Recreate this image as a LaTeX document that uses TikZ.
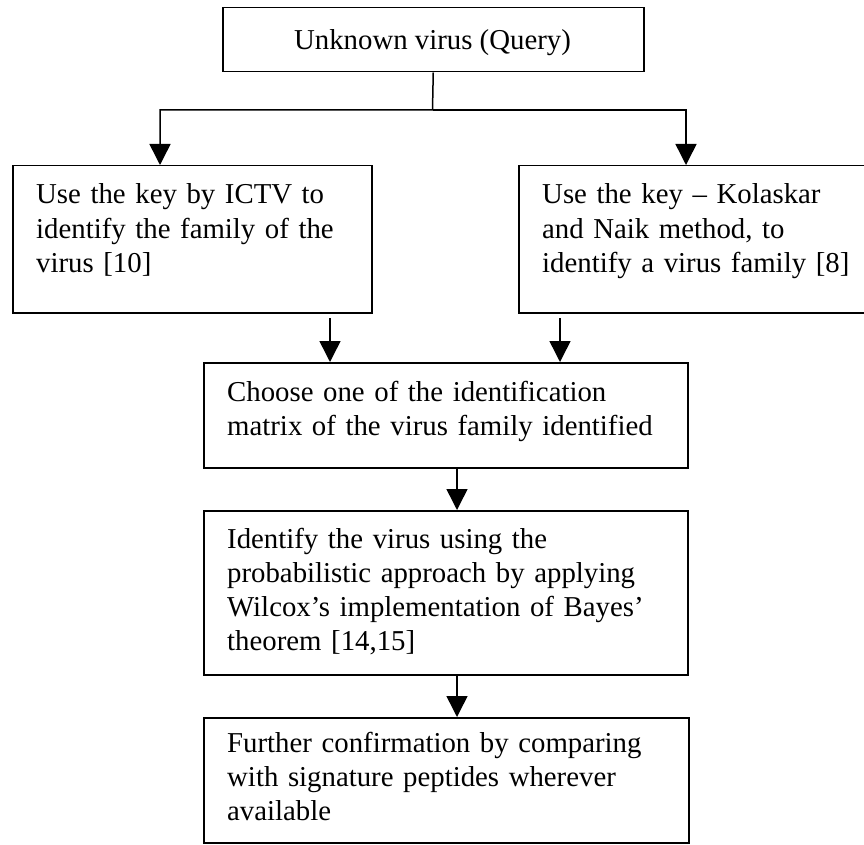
\documentclass[tikz,border=0pt]{standalone}
\usepackage{fontspec}
\setmainfont{Liberation Serif}
\usetikzlibrary{arrows.meta}
\tikzset{
  box/.style={draw, line width=1.5pt, rectangle, inner sep=0pt, anchor=north west},
  txt/.style={font=\fontsize{28.8}{34.3}\selectfont, inner sep=0pt, align=left, anchor=base west},
  arr/.style={-{Triangle[length=21pt,width=21pt]}, line width=1.5pt},
}
\begin{document}
\begin{tikzpicture}[x=1pt,y=-1pt]
\useasboundingbox (0,0) rectangle (864,845);
% boxes
\node[box, minimum width=421pt, minimum height=64pt] (b0) at (222,7) {};
\node[box, minimum width=359pt, minimum height=147pt] (b1) at (12,165) {};
\node[box, minimum width=346pt, minimum height=147pt] (b2) at (518,165) {};
\node[box, minimum width=484pt, minimum height=105pt] (b3) at (203,362) {};
\node[box, minimum width=484pt, minimum height=164pt] (b4) at (203,510) {};
\node[box, minimum width=485pt, minimum height=125pt] (b5) at (203,717) {};
% texts
\node[font=\fontsize{28.8}{34.3}\selectfont, inner sep=0pt, anchor=base] (t0) at (432.5,50) {Unknown virus (Query)};
\node[txt, text width=320pt] (t1) at (36,204) {Use the key by ICTV to\\identify the family of the\\virus [10]};
\node[txt, text width=315pt] (t2) at (542,204) {Use the key – Kolaskar\\and Naik method, to\\identify a virus family [8]};
\node[txt, text width=440pt] (t3) at (227,401) {Choose one of the identification\\matrix of the virus family identified};
\node[txt, text width=440pt] (t4) at (227,548) {Identify the virus using the\\probabilistic approach by applying\\Wilcox’s implementation of Bayes’\\theorem [14,15]};
\node[txt, text width=440pt] (t5) at (227,752) {Further confirmation by comparing\\with signature peptides wherever\\available};
% connector points
\coordinate (j) at (432.5,110);
\coordinate (tl) at (160,165);
\coordinate (tr) at (686,165);
\coordinate (sl) at (330,318);
\coordinate (sr) at (560,318);
\coordinate (m) at (457,0);
% connectors
\draw[arr] (b0.south) -- (j) -| (tl);
\draw[arr] (j) -| (tr);
\draw[arr] (sl) -- (sl |- b3.north);
\draw[arr] (sr) -- (sr |- b3.north);
\draw[arr] (m |- b3.south) -- (m |- b4.north);
\draw[arr] (m |- b4.south) -- (m |- b5.north);
\end{tikzpicture}
\end{document}
